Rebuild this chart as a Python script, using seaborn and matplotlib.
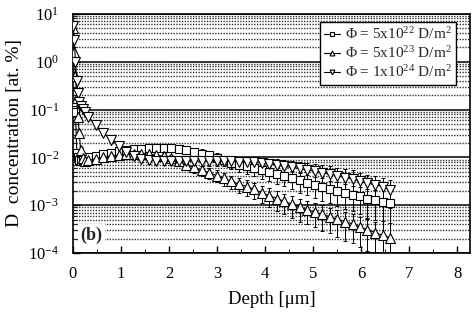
import numpy as np
import pandas as pd
import matplotlib
matplotlib.use("Agg")
import matplotlib.pyplot as plt
from matplotlib.lines import Line2D
from matplotlib.ticker import LogLocator, MultipleLocator, NullFormatter
import seaborn as sns

# ---------------- data ----------------
depth = [0.0, 0.03, 0.05, 0.08, 0.10, 0.13, 0.16, 0.20, 0.25,
         0.32, 0.48, 0.63, 0.79, 0.95, 1.10, 1.26, 1.42, 1.58, 1.73,
         1.89, 2.05, 2.20, 2.36, 2.52, 2.68, 2.83, 2.99, 3.15, 3.30,
         3.46, 3.62, 3.77, 3.93, 4.09, 4.25, 4.40, 4.56, 4.72, 4.87,
         5.03, 5.19, 5.35, 5.50, 5.66, 5.82, 5.97, 6.13, 6.29, 6.45, 6.60]

conc_5e22 = [0.112, 0.100, 0.089, 0.0126, 0.0100, 0.0089, 0.0085, 0.0089, 0.0093,
             0.0100, 0.0107, 0.0117, 0.0126, 0.0135, 0.0141, 0.0148, 0.0151, 0.0155, 0.0155,
             0.0155, 0.0155, 0.0151, 0.0145, 0.0132, 0.0120, 0.0110, 0.00977, 0.00871, 0.00776,
             0.00708, 0.00646, 0.00589, 0.00537, 0.00490, 0.00447, 0.00417, 0.00372, 0.00331, 0.00295,
             0.00269, 0.00245, 0.00219, 0.00200, 0.00182, 0.00166, 0.00155, 0.00138, 0.00129, 0.00117, 0.00110]

conc_5e23 = [5.0, 1.58, 0.50, 0.178, 0.071, 0.032, 0.0141, 0.0095, 0.0085,
             0.00871, 0.00933, 0.0100, 0.0107, 0.0112, 0.0117, 0.0120, 0.0120, 0.0117, 0.0112,
             0.0105, 0.00955, 0.00832, 0.00708, 0.00617, 0.00537, 0.00479, 0.00417, 0.00363, 0.00316,
             0.00275, 0.00245, 0.00214, 0.00182, 0.00158, 0.00138, 0.00120, 0.00105, 0.000912, 0.000813,
             0.000724, 0.000646, 0.000575, 0.000513, 0.000457, 0.000407, 0.000355, 0.000309, 0.000269, 0.000234, 0.000209]

conc_1e24 = [5.6, 2.8, 1.0, 0.40, 0.224, 0.141, 0.120, 0.105, 0.089,
             0.0708, 0.0468, 0.0331, 0.0234, 0.0170, 0.0129, 0.0107, 0.00933, 0.00871, 0.00851,
             0.00832, 0.00832, 0.00832, 0.00832, 0.00832, 0.00832, 0.00832, 0.00832, 0.00832, 0.00832,
             0.00813, 0.00813, 0.00794, 0.00759, 0.00724, 0.00692, 0.00646, 0.00617, 0.00589, 0.00550,
             0.00513, 0.00479, 0.00447, 0.00417, 0.00380, 0.00355, 0.00316, 0.00288, 0.00269, 0.00245, 0.00209]

relerr_5e22 = [0.1, 0.1, 0.1, 0.15, 0.15, 0.15, 0.15, 0.15, 0.15,
               0.15, 0.15, 0.15, 0.15, 0.15, 0.15, 0.15, 0.15, 0.15, 0.15,
               0.15, 0.15, 0.18, 0.2, 0.2, 0.22, 0.22, 0.25, 0.25, 0.28,
               0.3, 0.3, 0.32, 0.35, 0.35, 0.38, 0.4, 0.42, 0.45, 0.45,
               0.48, 0.5, 0.5, 0.52, 0.55, 0.55, 0.58, 0.6, 0.62, 0.95, 0.98]

relerr_5e23 = [0.1, 0.1, 0.1, 0.1, 0.1, 0.15, 0.15, 0.15, 0.15,
               0.15, 0.15, 0.15, 0.15, 0.15, 0.15, 0.15, 0.15, 0.15, 0.15,
               0.15, 0.15, 0.18, 0.2, 0.22, 0.25, 0.25, 0.28, 0.3, 0.32,
               0.35, 0.35, 0.38, 0.4, 0.42, 0.45, 0.45, 0.48, 0.5, 0.5,
               0.52, 0.55, 0.55, 0.58, 0.6, 0.6, 0.62, 0.65, 0.7, 1.0, 1.0]

relerr_1e24 = [0.1, 0.1, 0.1, 0.1, 0.1, 0.1, 0.1, 0.1, 0.1,
               0.12, 0.12, 0.12, 0.12, 0.12, 0.15, 0.15, 0.15, 0.15, 0.15,
               0.15, 0.15, 0.15, 0.18, 0.18, 0.2, 0.2, 0.22, 0.22, 0.25,
               0.25, 0.28, 0.28, 0.3, 0.3, 0.32, 0.35, 0.35, 0.38, 0.4,
               0.4, 0.42, 0.45, 0.45, 0.48, 0.5, 0.5, 0.52, 0.55, 0.55, 0.58]

labels = [r"$\Phi$ = 5x10$^{22}$ D/m$^{2}$",
          r"$\Phi$ = 5x10$^{23}$ D/m$^{2}$",
          r"$\Phi$ = 1x10$^{24}$ D/m$^{2}$"]
markers = ["s", "^", "v"]

# ---------------- style ----------------
sns.set_theme(style="ticks")
plt.rcParams["font.family"] = ["Liberation Serif", "DejaVu Serif"]
plt.rcParams["mathtext.fontset"] = "custom"
plt.rcParams["mathtext.rm"] = "Liberation Serif"
plt.rcParams["mathtext.it"] = "Liberation Serif:italic"
plt.rcParams["mathtext.bf"] = "Liberation Serif:bold"

fig = plt.figure(figsize=(4.74, 3.22), dpi=100)
ax = fig.add_axes([0.154, 0.214, 0.838, 0.743])
ax.set_yscale("log")
ax.set_xlim(0, 8.27)
ax.set_ylim(1e-4, 10)

# horizontal grid
ax.yaxis.set_major_locator(LogLocator(base=10, numticks=10))
ax.yaxis.set_minor_locator(LogLocator(base=10, subs=np.arange(2, 10), numticks=20))
ax.yaxis.set_minor_formatter(NullFormatter())
ax.grid(True, which="major", axis="y", color="black", lw=1.1, ls="-", zorder=0)
ax.grid(True, which="minor", axis="y", color="0.2", lw=1.0, ls=(0, (1, 1)), zorder=0)
ax.grid(False, axis="x")
ax.set_axisbelow(True)

series = [conc_5e22, conc_5e23, conc_1e24]
errs = [relerr_5e22, relerr_5e23, relerr_1e24]
sizes = [5.6, 6.6, 6.6]
for conc, rel, m, lab, ms in zip(series, errs, markers, labels, sizes):
    c = np.array(conc)
    e = np.array(rel) * c
    ax.errorbar(depth, c, yerr=e, fmt="none", ecolor="black", elinewidth=0.7,
                capsize=1.6, capthick=0.7, zorder=2)
    df = pd.DataFrame({"depth": depth, "conc": conc})
    sns.lineplot(data=df, x="depth", y="conc", ax=ax, color="black", lw=0.8,
                 marker=m, markersize=ms, markerfacecolor="white",
                 markeredgecolor="black", markeredgewidth=0.8, zorder=3,
                 sort=False, estimator=None, legend=False)

ax.xaxis.set_major_locator(MultipleLocator(1))
ax.xaxis.set_minor_locator(MultipleLocator(0.5))
ax.tick_params(axis="both", which="major", direction="in", length=5, width=1.0,
               labelsize=12, colors="black", top=False, right=False)
ax.tick_params(axis="both", which="minor", direction="in", length=3, width=0.8,
               top=False, right=False)
ax.tick_params(axis="x", pad=9)
ax.tick_params(axis="y", pad=10)
for s in ax.spines.values():
    s.set_color("black")
    s.set_linewidth(1.2)

ax.set_xlabel("Depth [μm]", fontsize=13.5, color="black", labelpad=7)
ax.set_ylabel("D  concentration [at. %]", fontsize=14, color="black", labelpad=4)

ax.text(0.38, 2.3e-4, "(b)", fontsize=13, fontweight="bold", ha="center", va="center",
        bbox=dict(facecolor="white", edgecolor="none", pad=2), zorder=4)

handles = [Line2D([], [], color="black", lw=0.8, marker=m, markersize=3.5,
                  markerfacecolor="white", markeredgecolor="black", markeredgewidth=0.8)
           for m in markers]
leg = ax.legend(handles, labels, loc="upper right", bbox_to_anchor=(0.965, 0.967),
                borderaxespad=0, fontsize=11, frameon=True, fancybox=False,
                edgecolor="black", framealpha=1, handlelength=1.0, handletextpad=0.35,
                labelspacing=0.2, borderpad=0.3)
leg.get_frame().set_linewidth(1.0)
leg.set_zorder(5)

fig.savefig("out.png", dpi=100)
